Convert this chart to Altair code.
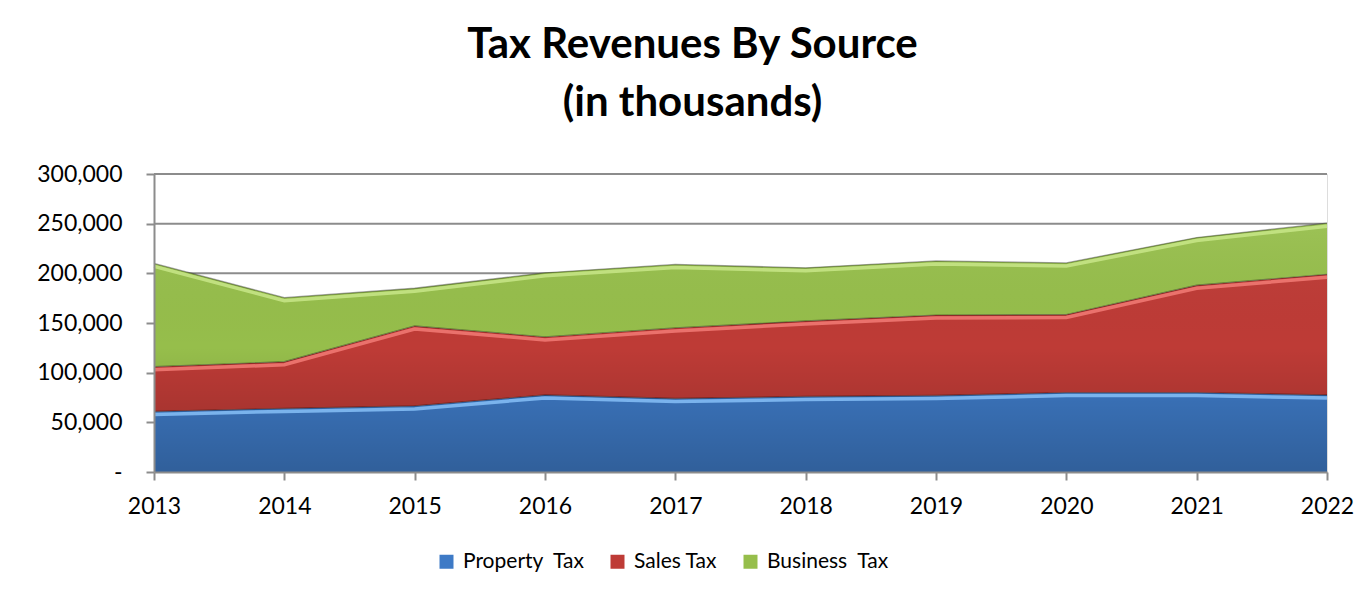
import altair as alt
import pandas as pd

# ---- data (values in dollars; chart shows thousands) ----
years = [2013, 2014, 2015, 2016, 2017, 2018, 2019, 2020, 2021, 2022]
property_tax = [61000, 64000, 66500, 77500, 74000, 76000, 77000, 80000, 80000, 77500]
sales_tax = [45000, 47000, 80500, 58500, 71000, 76000, 81000, 78500, 108000, 121500]
business_tax = [104000, 64500, 38000, 64500, 64000, 53500, 54500, 52000, 48000, 51500]

series_names = ["Property\u00a0 Tax", "Sales Tax", "Business\u00a0 Tax"]
series_colors = ["#3E7AC6", "#BE3B36", "#96BE4B"]
highlight_colors = ["#86BFF7", "#F27B76", "#C8E688"]
y_ticks = [0, 50000, 100000, 150000, 200000, 250000, 300000]
grid_values = [50000, 100000, 150000, 200000, 250000, 300000]

rows = []
for i, (name, vals) in enumerate(zip(series_names, [property_tax, sales_tax, business_tax])):
    for yr, v in zip(years, vals):
        rows.append({"year": yr, "series": name, "idx": i, "value": v})
df = pd.DataFrame(rows)
grid_df = pd.DataFrame({"g": grid_values})

W, H = 1173, 298
FONT = "Lato"

base = alt.Chart(df).transform_stack(
    stack="value", as_=["y0", "y1"], groupby=["year"], sort=[alt.SortField("idx")]
)

x_enc = alt.X(
    "year:Q",
    scale=alt.Scale(domain=[years[0], years[-1]], nice=False, zero=False),
    axis=alt.Axis(
        values=years, format="d", title=None, grid=False,
        domainColor="#8C8C8C", domainWidth=2, tickColor="#8C8C8C", tickWidth=2,
        tickSize=8, labelPadding=15, labelFont=FONT, labelFontSize=23,
        labelColor="#000000", zindex=1, labelFlush=False,
    ),
)
y_scale = alt.Scale(domain=[0, 300000], nice=False)
y_axis = alt.Axis(
    values=y_ticks, title=None, grid=False,
    labelExpr="datum.value == 0 ? '-' : format(datum.value, ',')",
    domainColor="#8C8C8C", domainWidth=2, tickColor="#8C8C8C", tickWidth=2,
    tickSize=8, labelPadding=24, labelFont=FONT, labelFontSize=23,
    labelColor="#000000", zindex=1,
)

grid = alt.Chart(grid_df).mark_rule(color="#8C8C8C", strokeWidth=2).encode(
    y=alt.Y("g:Q", scale=y_scale, axis=y_axis)
)

areas = base.mark_area(line=False, opacity=1).encode(
    x=x_enc,
    y=alt.Y("y1:Q", scale=y_scale, axis=y_axis),
    y2="y0:Q",
    color=alt.Color(
        "series:N",
        scale=alt.Scale(domain=series_names, range=series_colors),
        legend=alt.Legend(
            title=None, orient="none", direction="horizontal",
            legendX=282, legendY=377, symbolType="square", symbolSize=196,
            symbolStrokeWidth=0, labelFont=FONT, labelFontSize=21,
            labelColor="#000000", labelOffset=6, columnPadding=22,
        ),
    ),
)

shade = base.transform_filter(alt.datum.idx == 2).mark_area(
    color=alt.Gradient(
        gradient="linear", x1=0, x2=0, y1=0, y2=1,
        stops=[
            alt.GradientStop(color="rgba(255,255,255,0.06)", offset=0),
            alt.GradientStop(color="rgba(0,0,0,0)", offset=0.5),
            alt.GradientStop(color="rgba(0,0,0,0.22)", offset=1),
        ],
    )
).encode(x="year:Q", y="y1:Q", y2=alt.datum(0))

highlight = base.mark_line(strokeWidth=3.5, yOffset=3, opacity=0.85).encode(
    x="year:Q",
    y="y1:Q",
    detail="series:N",
    stroke=alt.Stroke(
        "series:N", scale=alt.Scale(domain=series_names, range=highlight_colors), legend=None
    ),
)

edges = base.mark_line(strokeWidth=1.3, color="rgba(0,0,0,0.35)").encode(
    x="year:Q", y="y1:Q", detail="series:N"
)

chart = alt.layer(grid, areas, shade, highlight, edges).resolve_scale(
    color="independent", stroke="independent"
).properties(
    width=W, height=H,
    padding={"left": 146, "top": 166, "right": 34, "bottom": 120},
    autosize=alt.AutoSizeParams(type="none"),
    title=alt.Title(
        text=["Tax Revenues By Source", "(in thousands)"],
        font=FONT, fontSize=42, fontWeight="bold", color="#000000",
        anchor="middle", dx=-48, offset=38, lineHeight=58,
    ),
).configure_view(stroke=None).configure(background="white")

chart.save("out.html", embed_options={"renderer": "svg", "actions": False})
